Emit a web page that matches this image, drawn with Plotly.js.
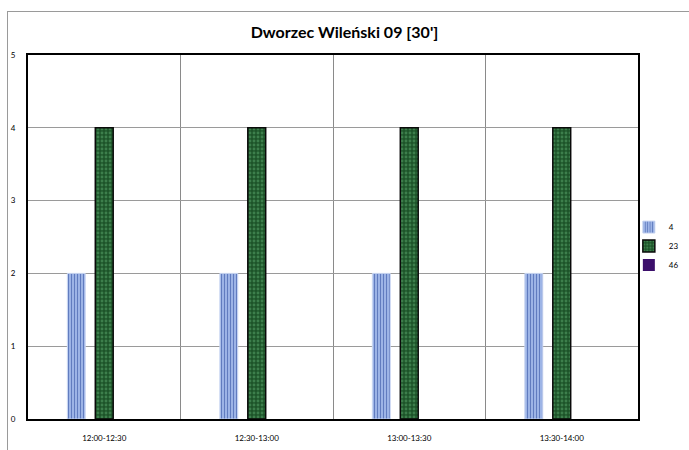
<!DOCTYPE html>
<html><head><meta charset="utf-8">
<script src="https://cdn.plot.ly/plotly-3.0.1.min.js"></script>
<style>
html,body{margin:0;padding:0;background:#fff;}
#wrap{position:relative;width:689px;height:450px;overflow:hidden;}
#frame{position:absolute;left:7px;top:11px;width:800px;height:600px;border:1px solid #9a9a9a;pointer-events:none;}
#chart{position:absolute;left:0;top:0;width:689px;height:450px;}
</style></head>
<body><div id="wrap"><div id="chart"></div><div id="frame"></div></div>
<script>
const categories = ['12:00-12:30','12:30-13:00','13:00-13:30','13:30-14:00'];
const seriesNames = ['4','23','46'];
const values4 = [2,2,2,2];
const values23 = [4,4,4,4];
const values46 = [0,0,0,0];
const yTicks = [0,1,2,3,4,5];

const font = 'Lato, "Open Sans", sans-serif';
const traces = [
  {type:'bar', name:seriesNames[0], x:categories, y:values4,
   marker:{color:'#8fa8e0', line:{color:'#c9d6f2', width:1},
           pattern:{shape:'|', fgcolor:'#5a76bb', bgcolor:'#9db4e6', size:3, solidity:0.3}}},
  {type:'bar', name:seriesNames[1], x:categories, y:values23,
   marker:{color:'#1f5a2c', line:{color:'#0a0a0a', width:1.5},
           pattern:{shape:'.', fgcolor:'#3d7f4c', bgcolor:'#1d5429', size:4, solidity:0.4}}},
  {type:'bar', name:seriesNames[2], x:categories, y:values46,
   marker:{color:'#3c0f6b'}}
];
const layout = {
  width:689, height:450,
  margin:{l:28, r:51, t:55, b:31, autoexpand:false},
  paper_bgcolor:'rgba(0,0,0,0)', plot_bgcolor:'#fff',
  title:{text:"<b>Dworzec Wileński 09 [30']</b>", x:0.5, xanchor:'center', y:0.927, yanchor:'middle',
         font:{family:font, size:16, color:'#000'}},
  barmode:'group', bargap:0.45, bargroupgap:0.36,
  showlegend:true,
  legend:{x:0.985, y:0.475, xanchor:'left', yanchor:'middle', font:{family:font, size:8, color:'#000'},
          itemwidth:30, tracegroupgap:2, bgcolor:'rgba(0,0,0,0)'},
  xaxis:{type:'category', tickson:'boundaries', showgrid:true, gridcolor:'#8a8a8a', gridwidth:1,
         showline:true, linecolor:'#000', linewidth:2, mirror:true, ticks:'', ticklabelstandoff:10,
         tickfont:{family:font, size:8, color:'#000'}},
  yaxis:{range:[0,5], tickvals:yTicks, showgrid:true, gridcolor:'#9a9a9a', gridwidth:1,
         showline:true, linecolor:'#000', linewidth:2, mirror:true, ticks:'', ticklabelstandoff:9,
         zeroline:false, tickfont:{family:font, size:8, color:'#000'}}
};
Plotly.newPlot('chart', traces, layout, {displayModeBar:false, staticPlot:true});
</script></body></html>
